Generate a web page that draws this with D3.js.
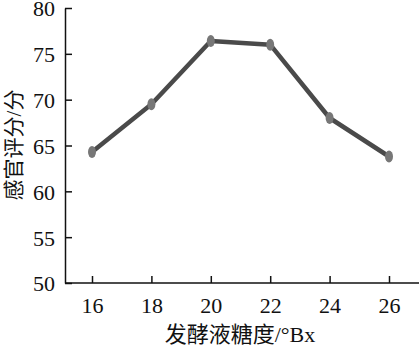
<!DOCTYPE html>
<html><head><meta charset="utf-8">
<script src="https://cdn.jsdelivr.net/npm/d3@7"></script>
<style>body{margin:0;background:#fff}svg{display:block}</style>
</head><body>
<script>
const categories = [16, 18, 20, 22, 24, 26];
const scores = [64.3, 69.5, 76.4, 76.0, 68.0, 63.8];
const yTicks = [50, 55, 60, 65, 70, 75, 80];
const xLabel = "发酵液糖度/°Bx";
const yLabel = "感官评分/分";

const W = 419, H = 347;
const svg = d3.select("body").append("svg").attr("width", W).attr("height", H);
const font = "'Liberation Serif','Times New Roman','Noto Sans CJK SC',serif";

const x = d3.scaleLinear().domain([16, 26]).range([92, 389]);
const y = d3.scaleLinear().domain([50, 80]).range([283, 8]);

// y axis
const ya = svg.append("g").attr("transform", "translate(65,0)")
  .call(d3.axisLeft(y).tickValues(yTicks).tickSize(-7).tickPadding(10).tickSizeOuter(0));
ya.select(".domain").attr("stroke", "#111").attr("stroke-width", 1.5);
ya.selectAll(".tick line").attr("stroke", "#111").attr("stroke-width", 1.5);
ya.selectAll(".tick text").attr("font-family", font).attr("font-size", 22).attr("fill", "#111")
  .attr("x", -10).attr("dy", "0.36em");

// x axis
const xa = svg.append("g").attr("transform", "translate(0,283)")
  .call(d3.axisBottom(x).tickValues(categories).tickSize(-7).tickPadding(14).tickSizeOuter(0));
xa.select(".domain").attr("d", "M65,0H419").attr("stroke", "#111").attr("stroke-width", 1.5);
xa.selectAll(".tick line").attr("stroke", "#111").attr("stroke-width", 1.5);
xa.selectAll(".tick text").attr("font-family", font).attr("font-size", 22).attr("fill", "#111");

// line
const line = d3.line().x((d, i) => x(categories[i])).y(d => y(d));
svg.append("path").datum(scores).attr("d", line)
  .attr("fill", "none").attr("stroke", "#4a4a4a").attr("stroke-width", 4.5).attr("stroke-linejoin", "round");

svg.selectAll("ellipse.pt").data(scores).enter().append("ellipse")
  .attr("cx", (d, i) => x(categories[i])).attr("cy", d => y(d))
  .attr("rx", 4).attr("ry", 6).attr("fill", "#777");

// labels
svg.append("text").attr("x", 240).attr("y", 342).attr("text-anchor", "middle")
  .attr("font-family", font).attr("font-size", 22).attr("fill", "#111").text(xLabel);
svg.append("text").attr("transform", "translate(21,145) rotate(-90)").attr("text-anchor", "middle")
  .attr("font-family", font).attr("font-size", 21).attr("fill", "#111").text(yLabel);
</script>
</body></html>
